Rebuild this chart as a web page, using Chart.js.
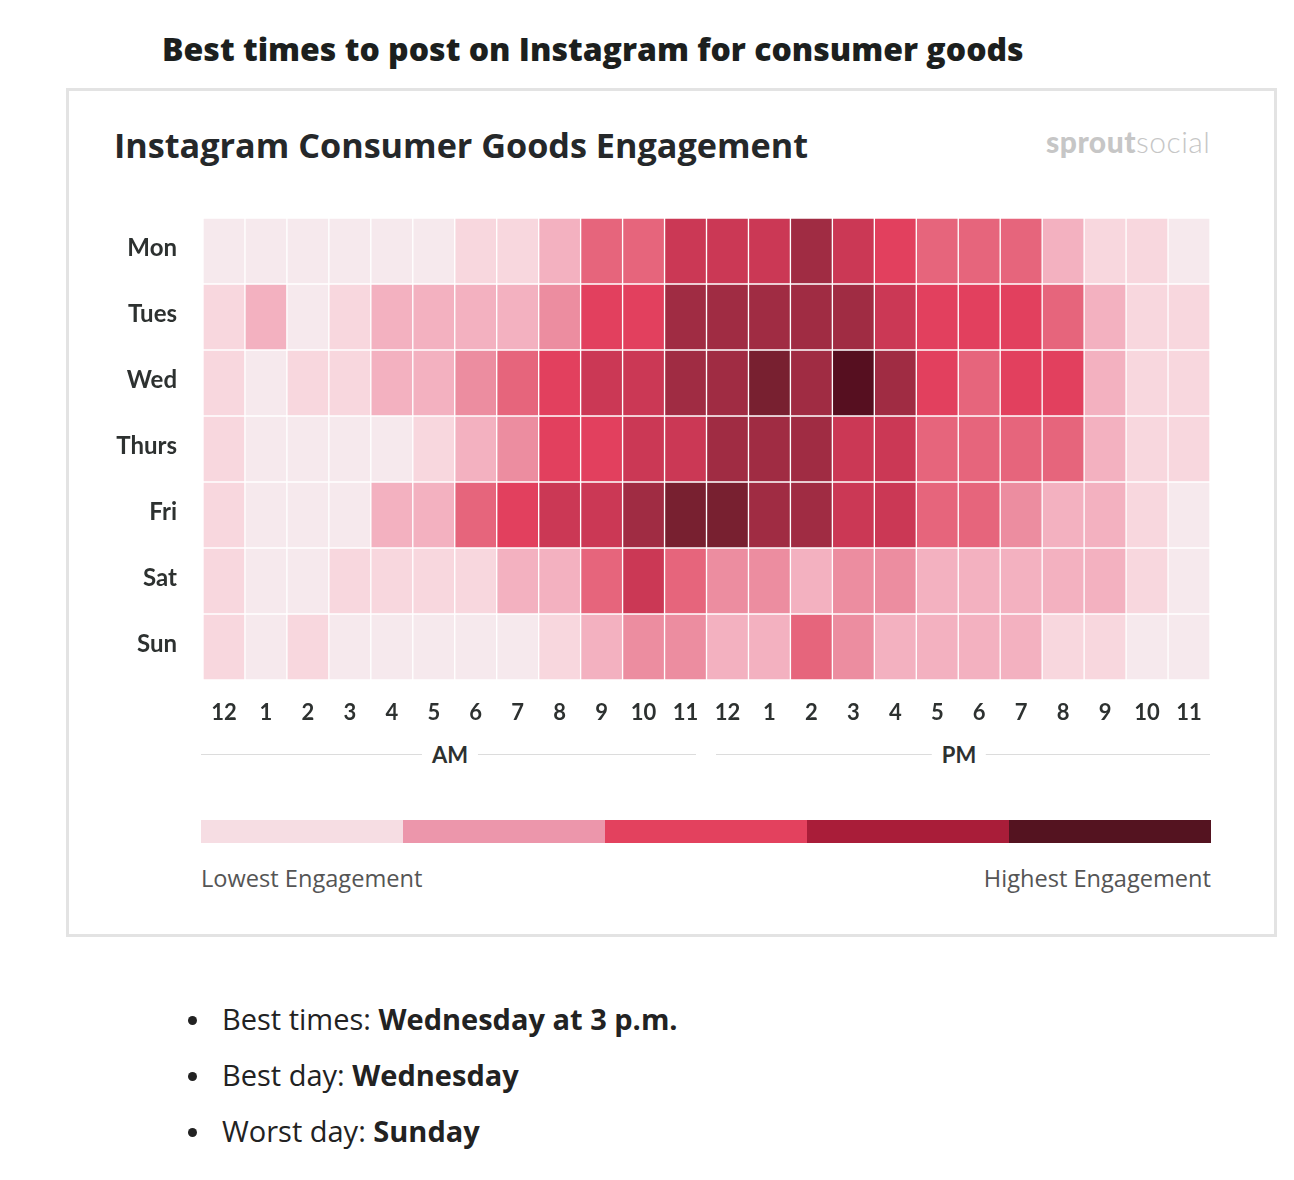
<!DOCTYPE html>
<html>
<head>
<meta charset="utf-8">
<script src="https://cdn.jsdelivr.net/npm/chart.js@4.4.1/dist/chart.umd.min.js"></script>
<style>
  html, body { margin:0; padding:0; background:#fff; }
  body { width:1294px; height:1180px; position:relative; overflow:hidden; font-family:Lato, "Open Sans", sans-serif; color:#222; }
  .abs { position:absolute; white-space:nowrap; }
  #pageTitle { left:162px; top:27px; font-family:"Open Sans", sans-serif; font-size:32px; font-weight:800; color:#1c1f1e; }
  #card { position:absolute; left:66px; top:88px; width:1205px; height:843px; border:3px solid #e3e3e3; background:#fff; }
  #cardTitle { left:114px; top:121px; font-family:"Open Sans", sans-serif; font-size:34.2px; font-weight:700; color:#25282a; }
  #logo { left:1046px; top:123px; font-size:30px; color:#c6c6c6; letter-spacing:0.5px; }
  #logo b { font-weight:900; }
  #logo span { font-weight:300; }
  #chartWrap { position:absolute; left:100px; top:212px; width:1115px; height:518px; }
  .line { position:absolute; height:1px; background:#dcdcdc; }
  .ampm { position:absolute; top:741px; font-size:22px; font-weight:700; color:#2d3130; background:#fff; padding:0 10px; transform:translateX(-50%); }
  #legendBar { position:absolute; left:201px; top:820px; width:1010px; height:23px; display:flex; }
  #legendBar div { flex:1; }
  .legTxt { position:absolute; top:862px; font-family:"Open Sans", sans-serif; font-size:23.6px; color:#555; font-weight:400; }
  ul { position:absolute; left:180px; top:997px; margin:0; padding:0; list-style:none; font-family:"Open Sans", sans-serif; }
  li { font-size:29px; color:#222; height:56px; line-height:44px; position:relative; padding-left:42px; white-space:nowrap; }
  li:before { content:""; position:absolute; left:8px; top:19px; width:9px; height:9px; border-radius:50%; background:#222; }
  li b { font-weight:700; }
</style>
</head>
<body>
<script>
// ---- data ----
const days = ["Mon", "Tues", "Wed", "Thurs", "Fri", "Sat", "Sun"];
const hours = ["12","1","2","3","4","5","6","7","8","9","10","11","12","1","2","3","4","5","6","7","8","9","10","11"];
// engagement level per hour (0 = lowest, 9 = highest)
const mon   = [0,0,0,0,0,0,1,1,2,4,4,6,6,6,7,6,5,4,4,4,2,1,1,0];
const tues  = [1,2,0,1,2,2,2,2,3,5,5,7,7,7,7,7,6,5,5,5,4,2,1,1];
const wed   = [1,0,1,1,2,2,3,4,5,6,6,7,7,8,7,9,7,5,4,5,5,2,1,1];
const thurs = [1,0,0,0,0,1,2,3,5,5,6,6,7,7,7,6,6,4,4,4,4,2,1,1];
const fri   = [1,0,0,0,2,2,4,5,6,6,7,8,8,7,7,6,6,4,4,3,2,2,1,0];
const sat   = [1,0,0,1,1,1,1,2,2,4,6,4,3,3,2,3,3,2,2,2,2,2,1,0];
const sun   = [1,0,1,0,0,0,0,0,1,2,3,3,2,2,4,3,2,2,2,2,1,1,0,0];
const rows = [mon, tues, wed, thurs, fri, sat, sun];
const levelColors = ["#f6e9ed","#f8d7de","#f3b1c0","#ec8da0","#e6657c","#e2405e","#cb3855","#a02c43","#782030","#560f20"];
const scaleColors = ["#f6dde3","#ec96ab","#e3415e","#a91d39","#541320"];
</script>

<div id="pageTitle" class="abs">Best times to post on Instagram for consumer goods</div>
<div id="card"></div>
<div id="cardTitle" class="abs">Instagram Consumer Goods Engagement</div>
<div id="logo" class="abs"><b>sprout</b><span>social</span></div>

<div id="chartWrap"><canvas id="c"></canvas></div>

<div class="line" style="left:201px; width:495px; top:754px;"></div>
<div class="line" style="left:716px; width:494px; top:754px;"></div>
<div class="ampm" style="left:450px;">AM</div>
<div class="ampm" style="left:959px;">PM</div>

<div id="legendBar"></div>
<div class="legTxt" style="left:201px;">Lowest Engagement</div>
<div class="legTxt" style="right:83px;">Highest Engagement</div>

<ul>
  <li>Best times: <b>Wednesday at 3 p.m.</b></li>
  <li>Best day: <b>Wednesday</b></li>
  <li>Worst day: <b>Sunday</b></li>
</ul>

<script>
const lb = document.getElementById('legendBar');
scaleColors.forEach(c => { const d = document.createElement('div'); d.style.background = c; lb.appendChild(d); });

const datasets = rows.map((vals, i) => ({
  label: days[i],
  data: vals.map(() => [i, i + 1]),
  backgroundColor: vals.map(v => levelColors[v]),
  borderColor: '#ffffff',
  borderWidth: 1,
  borderSkipped: false,
  barPercentage: 1,
  categoryPercentage: 1,
  grouped: false
}));

new Chart(document.getElementById('c'), {
  type: 'bar',
  data: { labels: hours, datasets },
  options: {
    responsive: true,
    maintainAspectRatio: false,
    animation: false,
    layout: { padding: { top: 6, right: 5, left: 0, bottom: 0 } },
    plugins: { legend: { display: false }, tooltip: { enabled: false } },
    scales: {
      x: {
        type: 'category',
        grid: { display: false, drawTicks: false },
        border: { display: false },
        ticks: { padding: 20, color: '#2d3130', font: { family: 'Lato', size: 22, weight: 'bold' }, maxRotation: 0, autoSkip: false },
        afterFit: s => { s.height = 50; s.paddingLeft = 0; s.paddingRight = 0; }
      },
      y: {
        type: 'linear',
        min: 0, max: 7,
        reverse: true,
        grid: { display: false, drawTicks: false },
        border: { display: false },
        afterBuildTicks: s => { s.ticks = days.map((d, i) => ({ value: i + 0.5 })); },
        ticks: {
          padding: 26,
          labelOffset: -3,
          color: '#2d3130',
          font: { family: 'Lato', size: 24, weight: 'bold' },
          callback: (v, idx) => days[idx]
        },
        afterFit: s => { s.width = 103; s.paddingTop = 0; s.paddingBottom = 0; }
      }
    }
  }
});
</script>
</body>
</html>
